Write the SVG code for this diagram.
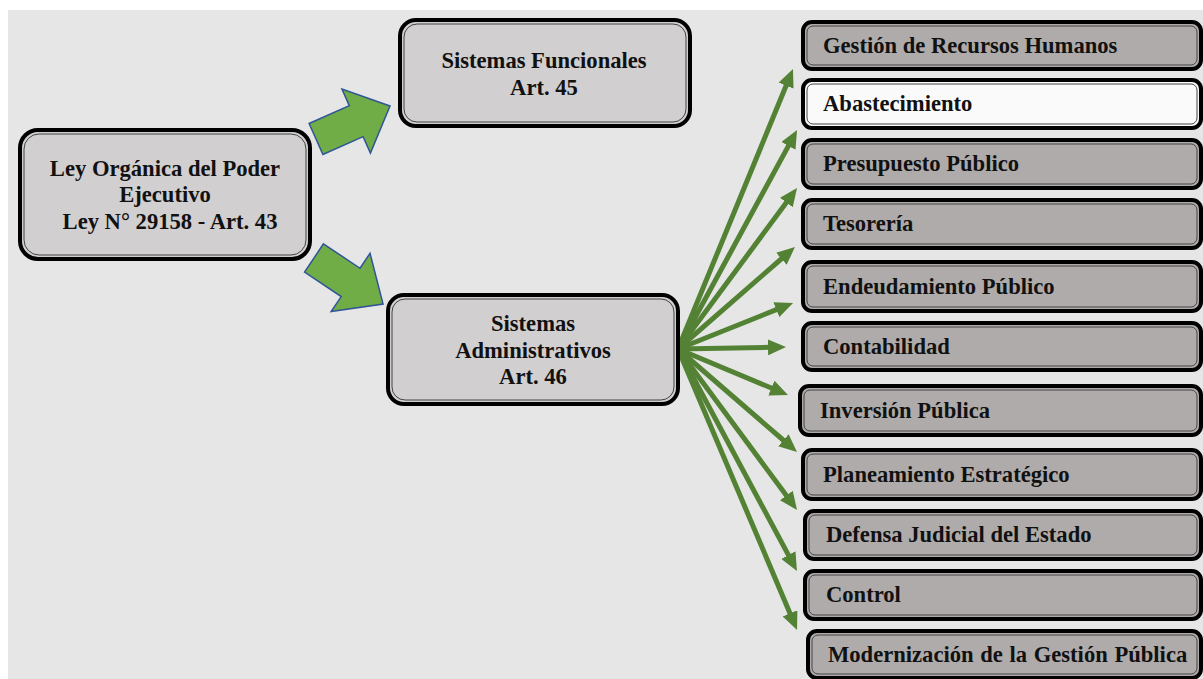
<svg xmlns="http://www.w3.org/2000/svg" width="1203" height="679" viewBox="0 0 1203 679">
<defs>
<style>
.t{font-family:"Liberation Serif","Times New Roman",serif;font-weight:bold;font-size:22.6px;fill:#111;}
.c{text-anchor:middle;}
.o{stroke:#000;stroke-width:4;}
.i{fill:none;stroke:#444;stroke-width:1;}
.mid{fill:#d1cfd0;}
.side{fill:#afabaa;}
.white{fill:#fafafa;}
.ln{stroke:#548235;stroke-width:5;fill:none;marker-end:url(#ah);}
.blk{fill:#70ad47;stroke:#2f5597;stroke-width:1.5;}
</style>
<marker id="ah" markerUnits="userSpaceOnUse" markerWidth="18" markerHeight="16" viewBox="0 -8 18 16" refX="2" refY="0" orient="auto">
<path d="M0,-8 L18,0 L0,8 z" fill="#548235"/>
</marker>
</defs>
<rect x="0" y="0" width="1203" height="679" fill="#ffffff"/>
<rect x="8" y="10" width="1195" height="669" fill="#e6e6e6"/>

<g id="connectors">
<polygon class="blk" transform="translate(316,139) rotate(-24)" points="0,-17 44,-17 44,-35 81,0 44,35 44,17 0,17"/>
<polygon class="blk" transform="translate(314,258) rotate(33.7)" points="0,-17 44,-17 44,-35 83,0 44,35 44,17 0,17"/>
<line class="ln" x1="678" y1="349" x2="786.9" y2="83.8"/>
<line class="ln" x1="678" y1="349" x2="789.4" y2="144.1"/>
<line class="ln" x1="678" y1="349" x2="787.5" y2="200.9"/>
<line class="ln" x1="678" y1="349" x2="782.9" y2="257.5"/>
<line class="ln" x1="678" y1="349" x2="778.2" y2="308.9"/>
<line class="ln" x1="678" y1="349" x2="770" y2="347.3"/>
<line class="ln" x1="678" y1="349" x2="773.2" y2="388.8"/>
<line class="ln" x1="678" y1="349" x2="784.9" y2="441.5"/>
<line class="ln" x1="678" y1="349" x2="787.5" y2="497.1"/>
<line class="ln" x1="678" y1="349" x2="789.4" y2="556.9"/>
<line class="ln" x1="678" y1="349" x2="790.8" y2="615.2"/>
</g>

<g id="ley">
<rect class="o mid" x="20" y="130" width="290" height="129" rx="18"/>
<rect class="i" x="24" y="134" width="282" height="121" rx="15"/>
<text class="t c" x="165" y="176">Ley Orgánica del Poder</text>
<text class="t c" x="165" y="202">Ejecutivo</text>
<text class="t c" x="170" y="229">Ley N° 29158 - Art. 43</text>
</g>

<g id="funcionales">
<rect class="o mid" x="400" y="20" width="290" height="106" rx="16"/>
<rect class="i" x="404" y="24" width="282" height="98" rx="13"/>
<text class="t c" x="544" y="68">Sistemas Funcionales</text>
<text class="t c" x="544" y="95">Art. 45</text>
</g>

<g id="administrativos">
<rect class="o mid" x="388" y="295" width="290" height="109" rx="16"/>
<rect class="i" x="392" y="299" width="282" height="101" rx="13"/>
<text class="t c" x="533" y="331">Sistemas</text>
<text class="t c" x="533" y="358">Administrativos</text>
<text class="t c" x="533" y="384">Art. 46</text>
</g>

<g id="rrhh">
<rect class="o side" x="803" y="22" width="398" height="47" rx="9"/>
<rect class="i" x="807" y="26" width="390" height="39" rx="6"/>
<text class="t" x="823" y="53">Gestión de Recursos Humanos</text>
</g>
<g id="abastecimiento">
<rect class="o white" x="803" y="80" width="398" height="48" rx="9"/>
<rect class="i" x="807" y="84" width="390" height="40" rx="6"/>
<text class="t" x="823" y="111">Abastecimiento</text>
</g>
<g id="presupuesto">
<rect class="o side" x="803" y="140" width="398" height="48" rx="9"/>
<rect class="i" x="807" y="144" width="390" height="40" rx="6"/>
<text class="t" x="823" y="171">Presupuesto Público</text>
</g>
<g id="tesoreria">
<rect class="o side" x="803" y="200" width="398" height="48" rx="9"/>
<rect class="i" x="807" y="204" width="390" height="40" rx="6"/>
<text class="t" x="823" y="231">Tesorería</text>
</g>
<g id="endeudamiento">
<rect class="o side" x="803" y="262" width="398" height="49" rx="9"/>
<rect class="i" x="807" y="266" width="390" height="41" rx="6"/>
<text class="t" x="823" y="294">Endeudamiento Público</text>
</g>
<g id="contabilidad">
<rect class="o side" x="803" y="323" width="398" height="47" rx="9"/>
<rect class="i" x="807" y="327" width="390" height="39" rx="6"/>
<text class="t" x="823" y="354">Contabilidad</text>
</g>
<g id="inversion">
<rect class="o side" x="800" y="386" width="401" height="49" rx="9"/>
<rect class="i" x="804" y="390" width="393" height="41" rx="6"/>
<text class="t" x="820" y="418">Inversión Pública</text>
</g>
<g id="planeamiento">
<rect class="o side" x="803" y="450" width="398" height="49" rx="9"/>
<rect class="i" x="807" y="454" width="390" height="41" rx="6"/>
<text class="t" x="823" y="482">Planeamiento Estratégico</text>
</g>
<g id="defensa">
<rect class="o side" x="805" y="511" width="396" height="48" rx="9"/>
<rect class="i" x="809" y="515" width="388" height="40" rx="6"/>
<text class="t" x="826" y="542">Defensa Judicial del Estado</text>
</g>
<g id="control">
<rect class="o side" x="805" y="571" width="396" height="48" rx="9"/>
<rect class="i" x="809" y="575" width="388" height="40" rx="6"/>
<text class="t" x="826" y="602">Control</text>
</g>
<g id="modernizacion">
<rect class="o side" x="808" y="631" width="393" height="47" rx="9"/>
<rect class="i" x="812" y="635" width="385" height="39" rx="6"/>
<text class="t" x="828" y="662" word-spacing="1">Modernización de la Gestión Pública</text>
</g>
</svg>
